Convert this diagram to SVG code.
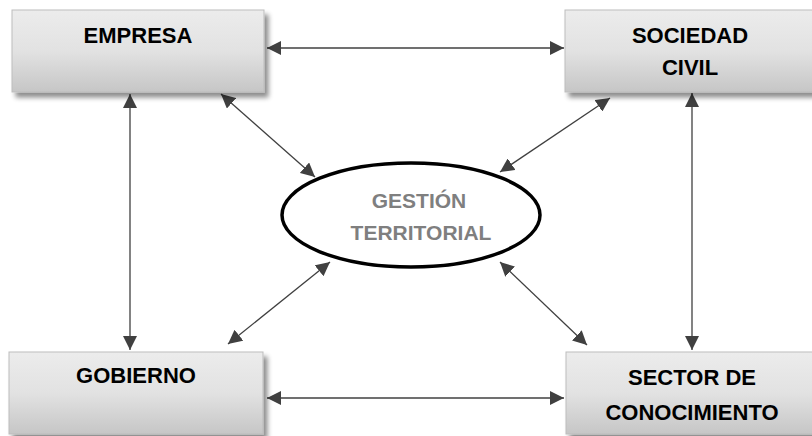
<svg xmlns="http://www.w3.org/2000/svg" width="812" height="436" viewBox="0 0 812 436">
  <style>
    .box { fill: url(#boxFill); stroke: #bdbdbd; stroke-width: 1; filter: url(#shadow); }
    .label { font-family: "Liberation Sans", Arial, sans-serif; font-weight: bold; font-size: 22px; fill: #000; text-anchor: middle; }
    .center-label { font-family: "Liberation Sans", Arial, sans-serif; font-weight: bold; font-size: 21px; fill: #7f7f7f; text-anchor: middle; }
    .link { stroke: #404040; stroke-width: 1.3; fill: none; marker-start: url(#arrow); marker-end: url(#arrow); }
  </style>
  <defs>
    <linearGradient id="boxFill" x1="0" y1="0" x2="0" y2="1">
      <stop offset="0" stop-color="#ececec"/>
      <stop offset="0.5" stop-color="#e2e2e2"/>
      <stop offset="1" stop-color="#c6c6c6"/>
    </linearGradient>
    <filter id="shadow" x="-10%" y="-10%" width="130%" height="140%">
      <feGaussianBlur in="SourceAlpha" stdDeviation="2.5"/>
      <feOffset dx="4" dy="5" result="blur"/>
      <feComponentTransfer>
        <feFuncA type="linear" slope="0.45"/>
      </feComponentTransfer>
      <feMerge>
        <feMergeNode/>
        <feMergeNode in="SourceGraphic"/>
      </feMerge>
    </filter>
    <marker id="arrow" viewBox="0 0 14 14" refX="14" refY="7" markerWidth="14" markerHeight="14" markerUnits="userSpaceOnUse" orient="auto-start-reverse">
      <path d="M0,0 L14,7 L0,14 z" fill="#404040"/>
    </marker>
  </defs>

  <!-- connectors -->
  <g id="connectors">
    <line class="link" x1="267" y1="48" x2="564" y2="48"/>
    <line class="link" x1="267" y1="398" x2="564" y2="398"/>
    <line class="link" x1="130" y1="94" x2="130" y2="350"/>
    <line class="link" x1="692" y1="93" x2="692" y2="350"/>
    <line class="link" x1="221" y1="94" x2="315" y2="177"/>
    <line class="link" x1="610" y1="98" x2="500" y2="172"/>
    <line class="link" x1="228" y1="344" x2="330" y2="262"/>
    <line class="link" x1="587" y1="345" x2="500" y2="262"/>
  </g>

  <g id="empresa">
    <rect class="box" x="12" y="10" width="252" height="82"/>
    <text class="label" x="138" y="43">EMPRESA</text>
  </g>

  <g id="sociedad-civil">
    <rect class="box" x="565" y="10" width="252" height="82"/>
    <text class="label" x="690" y="43">SOCIEDAD</text>
    <text class="label" x="690" y="75">CIVIL</text>
  </g>

  <g id="gobierno">
    <rect class="box" x="9" y="352" width="254" height="82"/>
    <text class="label" x="136" y="383">GOBIERNO</text>
  </g>

  <g id="sector-conocimiento">
    <rect class="box" x="566" y="352" width="252" height="82"/>
    <text class="label" x="692" y="385">SECTOR DE</text>
    <text class="label" x="692" y="420">CONOCIMIENTO</text>
  </g>

  <g id="gestion-territorial">
    <ellipse cx="411" cy="215" rx="129" ry="52" fill="#fff" stroke="#000" stroke-width="3.5"/>
    <text class="center-label" x="419" y="208">GESTIÓN</text>
    <text class="center-label" x="421" y="240">TERRITORIAL</text>
  </g>
</svg>
